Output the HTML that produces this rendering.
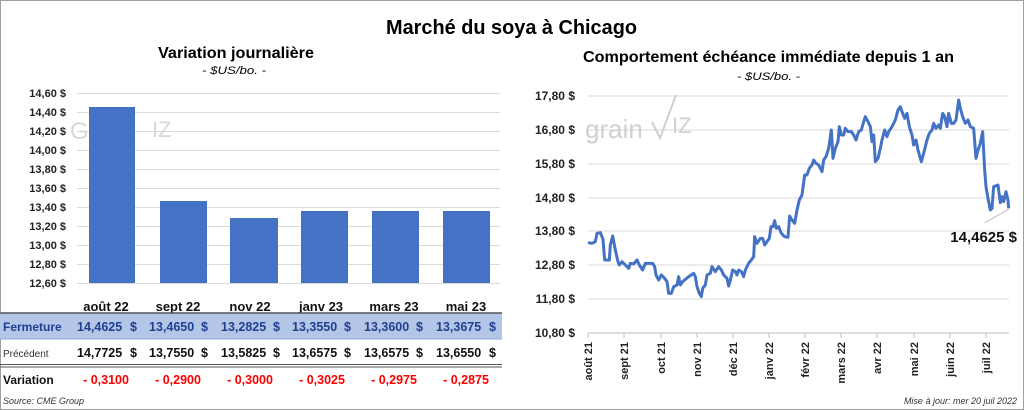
<!DOCTYPE html>
<html><head><meta charset="utf-8"><style>
html,body{margin:0;padding:0;background:#fff;}
svg{display:block;font-family:"Liberation Sans",sans-serif;}
</style></head><body>
<svg width="1024" height="410" viewBox="0 0 1024 410" xmlns="http://www.w3.org/2000/svg">
<rect x="0.5" y="0.5" width="1023" height="409" fill="#fff" stroke="#a0a0a0"/>
<text x="386" y="34" font-size="20" font-weight="bold" textLength="251" lengthAdjust="spacingAndGlyphs">Marché du soya à Chicago</text>
<text x="158" y="58" font-size="16" font-weight="bold" textLength="156" lengthAdjust="spacingAndGlyphs">Variation journalière</text>
<text x="202" y="74" font-size="11" font-style="italic" textLength="64" lengthAdjust="spacingAndGlyphs">- $US/bo. -</text>
<text x="583" y="62" font-size="16" font-weight="bold" textLength="371" lengthAdjust="spacingAndGlyphs">Comportement échéance immédiate depuis 1 an</text>
<text x="737" y="80" font-size="11" font-style="italic" textLength="63" lengthAdjust="spacingAndGlyphs">- $US/bo. -</text>

<g stroke="#d9d9d9" stroke-width="1">
<line x1="77" x2="500" y1="93.5" y2="93.5"/><line x1="77" x2="500" y1="112.5" y2="112.5"/>
<line x1="77" x2="500" y1="131.5" y2="131.5"/><line x1="77" x2="500" y1="150.5" y2="150.5"/>
<line x1="77" x2="500" y1="169.5" y2="169.5"/><line x1="77" x2="500" y1="188.5" y2="188.5"/>
<line x1="77" x2="500" y1="207.5" y2="207.5"/><line x1="77" x2="500" y1="226.5" y2="226.5"/>
<line x1="77" x2="500" y1="245.5" y2="245.5"/><line x1="77" x2="500" y1="264.5" y2="264.5"/>
<line x1="77" x2="500" y1="283.5" y2="283.5"/>
</g>
<g font-size="11" font-weight="bold" text-anchor="end" fill="#222">
<text x="66" y="97">14,60 $</text><text x="66" y="116">14,40 $</text><text x="66" y="135">14,20 $</text>
<text x="66" y="154">14,00 $</text><text x="66" y="173">13,80 $</text><text x="66" y="192">13,60 $</text>
<text x="66" y="211">13,40 $</text><text x="66" y="230">13,20 $</text><text x="66" y="249">13,00 $</text>
<text x="66" y="268">12,80 $</text><text x="66" y="287">12,60 $</text>
</g>
<text x="70" y="139" font-size="24" fill="#d8d8d8">G</text>
<text x="152" y="137" font-size="22" fill="#d8d8d8">IZ</text>
<g fill="#4472c4">
<rect x="89" y="107" width="46" height="176"/><rect x="160" y="201" width="47" height="82"/>
<rect x="230" y="218" width="48" height="65"/><rect x="301" y="211" width="47" height="72"/>
<rect x="372" y="211" width="47" height="72"/><rect x="443" y="211" width="47" height="72"/>
</g>
<g font-size="13" font-weight="bold" text-anchor="middle" fill="#111">
<text x="106" y="311">août 22</text><text x="178" y="311">sept 22</text><text x="250" y="311">nov 22</text>
<text x="321" y="311">janv 23</text><text x="394" y="311">mars 23</text><text x="466" y="311">mai 23</text>
</g>
<rect x="0" y="313" width="502" height="26" fill="#b4c6e7"/>
<line x1="0" x2="502" y1="313" y2="313" stroke="#555" stroke-width="1.5"/>
<line x1="0" x2="502" y1="339" y2="339" stroke="#8eaadb" stroke-width="1"/>
<line x1="0" x2="502" y1="364.5" y2="364.5" stroke="#555" stroke-width="1"/>
<line x1="0" x2="502" y1="367" y2="367" stroke="#555" stroke-width="1"/>
<text x="3" y="331" font-size="12" font-weight="bold" fill="#1f3f8f">Fermeture</text>
<g font-size="12.5" font-weight="bold" fill="#1f3f8f">
<text x="77" y="331">14,4625</text><text x="149" y="331">13,4650</text><text x="221" y="331">13,2825</text>
<text x="292" y="331">13,3550</text><text x="364" y="331">13,3600</text><text x="436" y="331">13,3675</text>
<text x="130" y="331">$</text><text x="201" y="331">$</text><text x="273" y="331">$</text><text x="344" y="331">$</text><text x="416" y="331">$</text><text x="489" y="331">$</text>
</g>
<text x="3" y="357" font-size="10" fill="#333">Précédent</text>
<g font-size="12.5" font-weight="bold" fill="#111">
<text x="77" y="357">14,7725</text><text x="149" y="357">13,7550</text><text x="221" y="357">13,5825</text>
<text x="292" y="357">13,6575</text><text x="364" y="357">13,6575</text><text x="436" y="357">13,6550</text>
<text x="130" y="357">$</text><text x="201" y="357">$</text><text x="273" y="357">$</text><text x="344" y="357">$</text><text x="416" y="357">$</text><text x="489" y="357">$</text>
</g>
<text x="3" y="384" font-size="12" font-weight="bold" fill="#111">Variation</text>
<g font-size="12.5" font-weight="bold" fill="#f00" text-anchor="middle">
<text x="106" y="384">- 0,3100</text><text x="178" y="384">- 0,2900</text><text x="250" y="384">- 0,3000</text>
<text x="322" y="384">- 0,3025</text><text x="394" y="384">- 0,2975</text><text x="466" y="384">- 0,2875</text>
</g>
<text x="3" y="404" font-size="9" font-style="italic" fill="#333">Source: CME Group</text>

<g stroke="#d9d9d9" stroke-width="1">
<line x1="588" x2="1009" y1="96" y2="96"/><line x1="588" x2="1009" y1="130" y2="130"/>
<line x1="588" x2="1009" y1="164" y2="164"/><line x1="588" x2="1009" y1="198" y2="198"/>
<line x1="588" x2="1009" y1="231" y2="231"/><line x1="588" x2="1009" y1="265" y2="265"/>
<line x1="588" x2="1009" y1="299" y2="299"/>
</g>
<line x1="588" x2="1009" y1="333" y2="333" stroke="#bfbfbf"/>
<g stroke="#bfbfbf"><line x1="588" x2="588" y1="333" y2="338"/><line x1="624" x2="624" y1="333" y2="338"/><line x1="661" x2="661" y1="333" y2="338"/><line x1="697" x2="697" y1="333" y2="338"/><line x1="733" x2="733" y1="333" y2="338"/><line x1="769" x2="769" y1="333" y2="338"/><line x1="805" x2="805" y1="333" y2="338"/><line x1="841" x2="841" y1="333" y2="338"/><line x1="877" x2="877" y1="333" y2="338"/><line x1="914" x2="914" y1="333" y2="338"/><line x1="950" x2="950" y1="333" y2="338"/><line x1="986" x2="986" y1="333" y2="338"/></g>
<g font-size="12" font-weight="bold" text-anchor="end" fill="#222">
<text x="575" y="100">17,80 $</text><text x="575" y="134">16,80 $</text><text x="575" y="168">15,80 $</text>
<text x="575" y="202">14,80 $</text><text x="575" y="235">13,80 $</text><text x="575" y="269">12,80 $</text>
<text x="575" y="303">11,80 $</text><text x="575" y="337">10,80 $</text>
</g>
<g font-size="11" font-weight="bold" text-anchor="end" fill="#222">
<text transform="translate(592,342) rotate(-90)">août 21</text>
<text transform="translate(628,342) rotate(-90)">sept 21</text>
<text transform="translate(665,342) rotate(-90)">oct 21</text>
<text transform="translate(701,342) rotate(-90)">nov 21</text>
<text transform="translate(737,342) rotate(-90)">déc 21</text>
<text transform="translate(773,342) rotate(-90)">janv 22</text>
<text transform="translate(809,342) rotate(-90)">févr 22</text>
<text transform="translate(845,342) rotate(-90)">mars 22</text>
<text transform="translate(881,342) rotate(-90)">avr 22</text>
<text transform="translate(918,342) rotate(-90)">mai 22</text>
<text transform="translate(954,342) rotate(-90)">juin 22</text>
<text transform="translate(990,342) rotate(-90)">juil 22</text>
</g>
<text x="585" y="138" font-size="26" fill="#d0d0d0">grain</text>
<text x="672" y="133" font-size="22" fill="#d0d0d0">IZ</text>
<polyline points="652,122 660,138 676,95" fill="none" stroke="#d0d0d0" stroke-width="2"/>
<g transform="translate(512,80) scale(0.33333)">
<polyline fill="none" stroke="#4472c4" stroke-width="9" stroke-linejoin="round" points="228,488 240,490 250,485 255,460 265,458 273,478 278,540 292,540 295,495 302,468 310,510 318,545 322,555 330,545 340,555 350,565 355,550 365,552 375,540 382,555 392,570 400,550 412,550 422,550 428,560 432,585 440,600 448,585 458,595 465,605 470,640 478,640 485,620 495,615 500,590 505,615 512,605 520,598 530,590 545,580 550,590 555,620 562,640 568,650 572,625 580,615 585,585 595,580 600,560 610,575 620,560 628,570 635,585 645,595 650,618 655,600 662,570 670,575 675,585 680,570 688,575 695,590 700,570 710,550 718,540 725,530 728,470 735,490 745,475 752,475 758,495 765,485 772,475 777,440 783,440 788,422 793,445 800,440 808,460 818,470 828,472 833,408 840,420 848,430 855,390 862,360 870,345 878,285 885,285 892,265 900,255 905,240 912,250 920,255 930,275 935,240 942,230 950,205 958,150 963,235 970,205 978,185 982,140 988,165 995,165 1000,145 1008,155 1018,155 1025,165 1032,180 1040,155 1048,150 1055,125 1060,110 1068,125 1075,140 1080,185 1085,165 1090,245 1098,235 1105,205 1110,180 1118,150 1125,170 1130,155 1140,140 1150,120 1158,90 1165,80 1170,95 1178,115 1185,100 1192,140 1200,165 1205,195 1212,180 1218,210 1228,245 1235,220 1245,180 1252,160 1260,150 1265,130 1272,145 1280,135 1285,145 1292,100 1298,110 1305,140 1310,100 1318,130 1325,130 1332,120 1340,60 1345,85 1352,110 1360,130 1368,120 1375,140 1385,145 1392,235 1398,210 1405,190 1412,155 1418,270 1422,320 1428,355 1435,390 1440,385 1445,320 1458,315 1465,368 1470,350 1475,365 1482,335 1488,360 1490,385"/>
<line x1="1418" y1="428" x2="1490" y2="388" stroke="#bfbfbf" stroke-width="3"/>
</g>
<text x="1017" y="242" font-size="15" font-weight="bold" text-anchor="end" fill="#111">14,4625 $</text>
<text x="1017" y="404" font-size="9" font-style="italic" text-anchor="end" fill="#333">Mise à jour: mer 20 juil 2022</text>
</svg>
</body></html>
